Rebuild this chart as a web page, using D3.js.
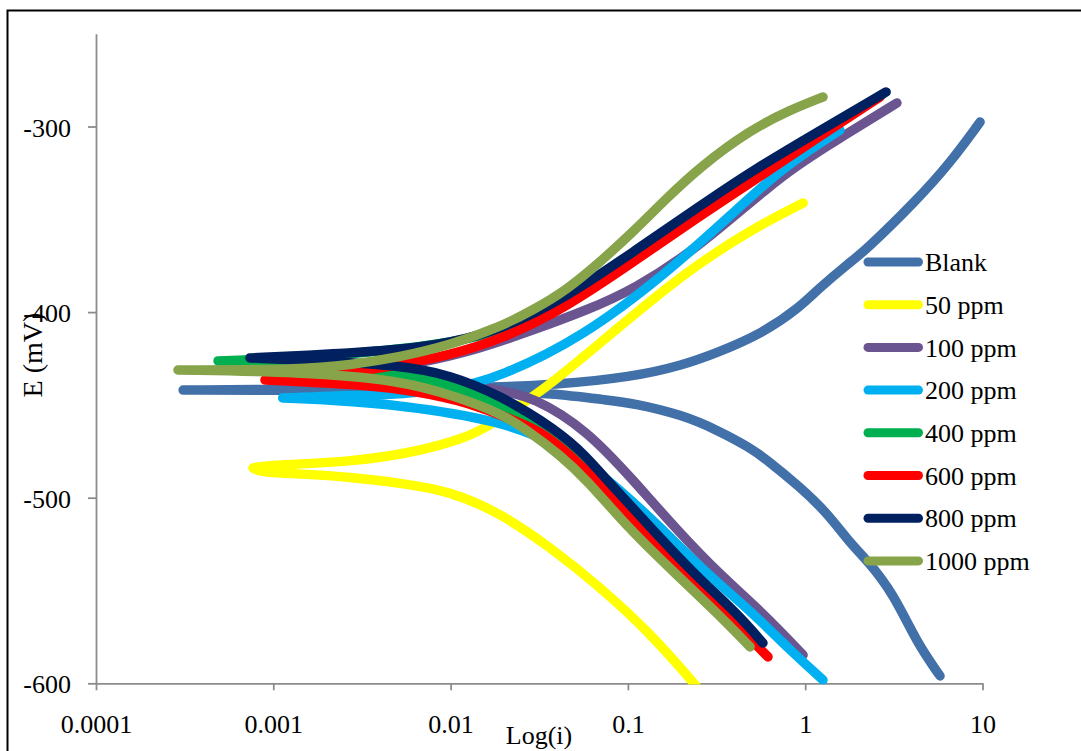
<!DOCTYPE html>
<html><head><meta charset="utf-8">
<script src="https://cdn.jsdelivr.net/npm/d3@7"></script>
<style>body{margin:0;background:#fff}svg{display:block}</style>
</head><body><svg id="c" width="1081" height="751"></svg>
<script>
// ---- data: [current i, potential E (mV)] from cathodic end -> Ecorr tip -> anodic end
const seriesNames = ["Blank","50 ppm","100 ppm","200 ppm","400 ppm","600 ppm","800 ppm","1000 ppm"];
const seriesColors = ["#4270A8","#FFFF00","#6B5591","#00B0F0","#00B050","#FF0000","#002060","#87A44B"];

const blank = [[5.76,-596],[4.27,-578.3],[3.13,-551.3],[2.23,-533.6],[1.79,-524.4],[1.33,-508.2],[0.935,-494.2],[0.61,-479.7],[0.489,-473],[0.318,-463.5],[0.205,-455.5],[0.107,-449],[0.0762,-447.4],[0.0364,-443.6],[0.019,-443],[0.00519,-442.3],[0.00141,-442.2],[0.00031,-442],
  [0.00141,-441.6],[0.00519,-441.2],[0.019,-440.4],[0.0364,-439.3],[0.107,-435],[0.205,-428.5],[0.318,-422],[0.578,-411.3],[0.935,-397.3],[1.17,-388],[1.79,-373],[2.12,-368],[4.27,-339.6],[6.56,-319.7],[9.69,-297.6]];
const ppm50 = [[0.26,-605],[0.215,-595.5],[0.133,-572.9],[0.0697,-548.1],[0.0364,-526.6],[0.019,-508.2],[0.00993,-496.4],[0.00519,-492.1],[0.00271,-488.8],[0.00141,-487.2],[0.000841,-486.2],[0.000768,-484],
  [0.000957,-482.4],[0.00271,-480.8],[0.00646,-475.4],[0.0124,-467.5],[0.0167,-461],[0.0319,-443.6],[0.0697,-416.6],[0.152,-389.7],[0.255,-373.5],[0.489,-355.8],[0.973,-341.2]];
const ppm100 = [[0.973,-584.8],[0.578,-562.1],[0.331,-541.6],[0.189,-517.4],[0.107,-490.5],[0.0588,-463.5],[0.0292,-445.7],[0.019,-442],[0.00993,-437.7],[0.00519,-435],[0.00209,-433.4],
  [0.00519,-429.6],[0.0124,-422],[0.0292,-409.7],[0.0588,-398.9],[0.107,-388],[0.255,-364.9],[0.75,-325.1],[1.51,-307.3],[3.29,-287.3]];
const ppm200 = [[1.26,-598.2],[0.82,-582.1],[0.507,-562.1],[0.283,-541.6],[0.158,-517.4],[0.0793,-490.5],[0.0414,-471.6],[0.019,-458.4],[0.00519,-450],[0.00209,-447.4],[0.00113,-446.3],
  [0.00209,-445.2],[0.00416,-444.7],[0.00993,-442],[0.019,-435],[0.0558,-413.4],[0.166,-378.9],[0.392,-346.6],[0.75,-321.8],[1.57,-301.9]];
const ppm400 = [[0.556,-579.4],[0.382,-562.1],[0.224,-541.6],[0.128,-517.4],[0.0715,-490.5],[0.0537,-477],[0.0364,-463.5],[0.019,-450],[0.0113,-440.9],[0.00519,-432.3],[0.00141,-428],[0.000488,-426.3],
  [0.00141,-424.7],[0.00519,-420.4],[0.019,-412.3],[0.0453,-394.6],[0.107,-370.3],[0.255,-345.5],[0.489,-327.7],[1.17,-304.6],[2.75,-282.5]];
const ppm600 = [[0.617,-585.8],[0.353,-562.1],[0.205,-541.6],[0.117,-517.4],[0.0669,-490.5],[0.0471,-477],[0.0319,-463.5],[0.019,-455.4],[0.0113,-447.4],[0.00519,-440.9],[0.00209,-438.2],[0.000898,-436.6],
  [0.00209,-434.4],[0.00519,-428.5],[0.00993,-423.1],[0.019,-415],[0.0453,-397.3],[0.107,-373],[0.255,-348.2],[0.489,-330.4],[1.17,-306.2],[2.64,-284.1]];
const ppm800 = [[0.578,-578.3],[0.412,-562.1],[0.239,-541.6],[0.1385,-517.4],[0.0762,-490.5],[0.0573,-477],[0.0398,-463.5],[0.019,-444.7],[0.00993,-433.9],[0.00519,-428.5],[0.00141,-425.8],[0.000739,-424.7],
  [0.00141,-423.6],[0.00519,-420.4],[0.00993,-416.6],[0.019,-409.7],[0.0453,-391.9],[0.107,-367.6],[0.255,-342.8],[0.489,-324.5],[1.17,-303],[2.86,-281.4]];
const ppm1000 = [[0.489,-580.4],[0.318,-562.1],[0.184,-540.6],[0.1027,-517.4],[0.0588,-490.5],[0.0414,-477],[0.027,-463.5],[0.019,-454.4],[0.0109,-445.7],[0.00519,-436.6],[0.00141,-432.3],[0.00029,-431.2],
  [0.00141,-431],[0.00271,-428.5],[0.00519,-424.2],[0.00993,-417.7],[0.019,-408],[0.0292,-398.9],[0.0453,-388],[0.0697,-373],[0.107,-356.8],[0.166,-338.5],[0.255,-321.8],[0.489,-301.9],[0.82,-291.1],[1.26,-284.1]];
const seriesData = [blank, ppm50, ppm100, ppm200, ppm400, ppm600, ppm800, ppm1000];

const xTicks = [0.0001, 0.001, 0.01, 0.1, 1, 10];
const xTickLabels = ["0.0001","0.001","0.01","0.1","1","10"];
const yTicks = [-600, -500, -400, -300];
const yTickLabels = ["-600","-500","-400","-300"];

// ---- drawing
const svg = d3.select("#c");
const FONT = "'Liberation Serif','Times New Roman',serif";
svg.append("rect").attr("x",0).attr("y",0).attr("width",1081).attr("height",751).attr("fill","#fff");
svg.append("rect").attr("x",7.5).attr("y",10.5).attr("width",1100).attr("height",800)
  .attr("fill","none").attr("stroke","#000").attr("stroke-width",2);

const x = d3.scaleLog().domain([0.0001, 10]).range([96, 982.5]);
const y = d3.scaleLinear().domain([-600, -250]).range([683.3, 33.7]);

const axisColor = "#8c8c8c";
const gy = svg.append("g").attr("transform","translate(96,0)")
  .call(d3.axisLeft(y).tickValues(yTicks).tickSize(8).tickSizeOuter(0).tickPadding(17)
    .tickFormat((d,i)=>yTickLabels[i]));
const gx = svg.append("g").attr("transform","translate(0,683.3)")
  .call(d3.axisBottom(x).tickValues(xTicks).tickSize(7).tickSizeOuter(0).tickPadding(24)
    .tickFormat((d,i)=>xTickLabels[i]));
[gx, gy].forEach(g=>{
  g.select(".domain").attr("stroke",axisColor).attr("stroke-width",1.8);
  g.selectAll(".tick line").attr("stroke",axisColor).attr("stroke-width",1.8);
  g.selectAll(".tick text").attr("fill","#000").style("font-family",FONT).style("font-size","26px");
});
gy.selectAll(".tick text").attr("dy","0.37em");

svg.append("defs").append("clipPath").attr("id","clip")
  .append("rect").attr("x",96).attr("y",20).attr("width",1000).attr("height",664.5);

const line = d3.line().x(d=>x(d[0])).y(d=>y(d[1])).curve(d3.curveBasis);
// repeat the Ecorr tip point so the B-spline stays close to it
function withTip(s){
  let k = d3.minIndex(s, d=>d[0]);
  return s.slice(0,k+1).concat([s[k]], s.slice(k));
}
const plot = svg.append("g").attr("clip-path","url(#clip)");
seriesData.forEach((s,k)=>{
  plot.append("path").datum(withTip(s)).attr("d",line).attr("fill","none")
    .attr("stroke",seriesColors[k]).attr("stroke-width",9.5)
    .attr("stroke-linecap","round").attr("stroke-linejoin","round");
});

// axis titles
svg.append("text").attr("x",539).attr("y",744).attr("text-anchor","middle")
  .style("font-family",FONT).style("font-size","26px").text("Log(i)");
svg.append("text").attr("transform","translate(42,355) rotate(-90)").attr("text-anchor","middle")
  .style("font-family",FONT).style("font-size","28px").text("E (mV)");

// legend
const leg = svg.append("g");
seriesNames.forEach((n,k)=>{
  const yy = 262 + k*42.7;
  leg.append("line").attr("x1",868).attr("x2",918.5).attr("y1",yy).attr("y2",yy)
    .attr("stroke",seriesColors[k]).attr("stroke-width",9).attr("stroke-linecap","round");
  leg.append("text").attr("x",925).attr("y",yy).attr("dy","0.35em")
    .style("font-family",FONT).style("font-size","26px").text(n);
});
</script></body></html>
